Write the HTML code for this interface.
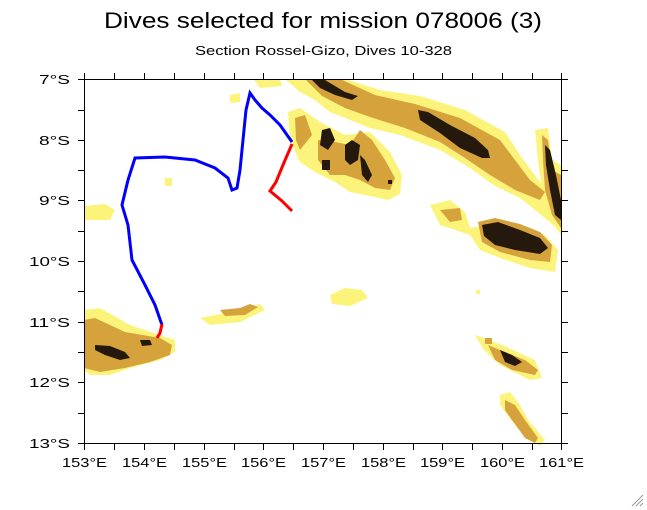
<!DOCTYPE html>
<html><head><meta charset="utf-8"><style>
html,body{margin:0;padding:0;background:#fff;width:647px;height:510px;overflow:hidden}
svg{display:block;font-family:"Liberation Sans",sans-serif}
</style></head><body>
<svg width="647" height="510" viewBox="0 0 647 510" xmlns="http://www.w3.org/2000/svg">
<text x="104" y="28" font-size="22" fill="#000" textLength="438" lengthAdjust="spacingAndGlyphs">Dives selected for mission 078006 (3)</text>
<text x="195" y="55" font-size="13" fill="#000" textLength="257" lengthAdjust="spacingAndGlyphs">Section Rossel-Gizo, Dives 10-328</text>
<g>
<g fill="#fcf47a">
<polygon points="285,79 345,79 380,90 420,96 465,110 505,132 522,158 540,182 561,192 561,232 545,218 520,198 495,186 470,168 440,150 400,135 370,128 345,118 330,112 315,100 300,92"/>
<polygon points="288,112 300,108 320,122 345,135 370,132 390,152 402,175 400,194 388,200 370,196 350,192 335,182 315,172 300,162 290,140"/>
<polygon points="430,205 450,200 465,212 470,228 490,225 520,228 545,235 558,250 555,272 530,268 500,258 480,250 470,235 440,225"/>
<polygon points="535,130 548,128 552,160 561,165 561,235 550,220 542,190 538,160"/>
<polygon points="84,310 100,308 130,325 160,335 175,340 175,352 160,360 130,368 110,375 90,375 84,370"/>
<polygon points="200,318 230,312 260,304 265,310 240,322 210,325"/>
<polygon points="254,80 280,79 282,86 260,88"/>
<polygon points="84,206 105,204 115,210 110,220 84,220"/>
<polygon points="330,295 345,288 362,290 368,298 350,306 332,304"/>
<polygon points="475,335 502,345 535,360 542,378 530,380 500,365 484,350"/>
<polygon points="500,395 510,392 520,405 528,420 545,440 540,446 530,440 515,425 500,405"/>
<polygon points="230,95 240,93 240,102 230,103"/>
<polygon points="165,178 172,178 172,186 165,186"/>
<polygon points="476,290 480,290 480,294 476,294"/>
</g>
<g fill="#d6a23c">
<polygon points="305,79 340,79 375,95 415,104 460,118 500,140 515,160 530,180 545,192 540,200 515,190 490,175 465,158 440,142 405,128 370,117 345,108 322,96"/>
<polygon points="295,118 305,115 312,135 300,150 296,140"/>
<polygon points="318,140 335,142 350,145 360,130 372,140 385,160 395,178 390,190 375,188 360,180 345,175 330,175 318,160"/>
<polygon points="440,210 460,208 462,220 450,222"/>
<polygon points="478,222 495,218 520,224 540,232 552,245 550,262 530,260 500,252 482,242"/>
<polygon points="542,135 548,140 552,170 561,175 561,228 552,215 545,190 543,160"/>
<polygon points="84,320 95,318 125,332 160,338 172,345 170,355 150,362 125,368 100,372 84,368"/>
<polygon points="220,310 240,308 250,304 258,307 245,315 225,316"/>
<polygon points="488,345 500,350 525,360 538,370 535,375 512,370 495,360"/>
<polygon points="505,400 515,405 525,420 538,438 535,443 525,438 512,420 505,410"/>
<polygon points="485,338 492,338 492,344 485,344"/>
</g>
<g fill="#24190c">
<polygon points="312,80 325,80 345,92 358,96 352,100 335,95 320,88"/>
<polygon points="418,110 428,112 450,125 475,138 488,150 490,158 482,158 460,148 440,133 420,120"/>
<polygon points="482,225 498,222 520,230 540,238 548,248 540,254 515,250 495,245 484,236"/>
<polygon points="322,130 330,128 335,140 328,150 320,145"/>
<polygon points="322,160 330,160 330,170 322,170"/>
<polygon points="345,145 352,140 360,145 358,160 350,165 345,160"/>
<polygon points="360,155 365,160 372,175 368,182 362,175"/>
<polygon points="545,145 550,150 556,175 561,200 561,220 555,215 550,190 546,165"/>
<polygon points="95,345 110,346 125,352 130,358 120,360 105,355 95,350"/>
<polygon points="140,340 150,340 152,345 142,346"/>
<polygon points="500,350 512,355 522,362 515,366 505,362"/>
<polygon points="388,180 392,180 392,184 388,184"/>
</g>
</g>
<polyline fill="none" stroke="#0000ff" stroke-width="3" points="292,142 280,125 270,115 262,108 255,100 250,93 246,110 243,140 240,170 237,188 232,190 228,178 215,168 195,160 165,157 135,158 128,180 122,205 128,225 132,260 145,285 155,305 162,325"/>
<polyline fill="none" stroke="#ff0000" stroke-width="3" points="162,324 160,333 157,338"/>
<polyline fill="none" stroke="#ff0000" stroke-width="3" points="292,144 283,165 276,182 270,191 282,201 292,211"/>
<rect x="84.5" y="79.5" width="477" height="364" fill="none" stroke="#000" stroke-width="1"/>
<g stroke="#000" stroke-width="1">
<path d="M84.5,444v6M114.5,444v6M144.5,444v6M174.5,444v6M204.5,444v6M234.5,444v6M263.5,444v6M293.5,444v6M323.5,444v6M353.5,444v6M383.5,444v6M413.5,444v6M442.5,444v6M472.5,444v6M502.5,444v6M532.5,444v6M561.5,444v6"/>
<path d="M84.5,79v-6M114.5,79v-6M144.5,79v-6M174.5,79v-6M204.5,79v-6M234.5,79v-6M263.5,79v-6M293.5,79v-6M323.5,79v-6M353.5,79v-6M383.5,79v-6M413.5,79v-6M442.5,79v-6M472.5,79v-6M502.5,79v-6M532.5,79v-6M561.5,79v-6"/>
<path d="M84,79.5h-6M84,110.5h-6M84,140.5h-6M84,170.5h-6M84,200.5h-6M84,231.5h-6M84,261.5h-6M84,291.5h-6M84,322.5h-6M84,352.5h-6M84,382.5h-6M84,413.5h-6M84,443.5h-6"/>
<path d="M562,79.5h6M562,110.5h6M562,140.5h6M562,170.5h6M562,200.5h6M562,231.5h6M562,261.5h6M562,291.5h6M562,322.5h6M562,352.5h6M562,382.5h6M562,413.5h6M562,443.5h6"/>
</g>
<g font-size="13" fill="#000">
<text x="39" y="84" textLength="31" lengthAdjust="spacingAndGlyphs">7°S</text>
<text x="39" y="145" textLength="31" lengthAdjust="spacingAndGlyphs">8°S</text>
<text x="39" y="205" textLength="31" lengthAdjust="spacingAndGlyphs">9°S</text>
<text x="29" y="266" textLength="41" lengthAdjust="spacingAndGlyphs">10°S</text>
<text x="29" y="327" textLength="41" lengthAdjust="spacingAndGlyphs">11°S</text>
<text x="29" y="387" textLength="41" lengthAdjust="spacingAndGlyphs">12°S</text>
<text x="29" y="448" textLength="41" lengthAdjust="spacingAndGlyphs">13°S</text>
</g>
<g font-size="13" fill="#000">
<text x="62" y="467" textLength="45" lengthAdjust="spacingAndGlyphs">153°E</text>
<text x="122" y="467" textLength="45" lengthAdjust="spacingAndGlyphs">154°E</text>
<text x="182" y="467" textLength="45" lengthAdjust="spacingAndGlyphs">155°E</text>
<text x="241" y="467" textLength="45" lengthAdjust="spacingAndGlyphs">156°E</text>
<text x="301" y="467" textLength="45" lengthAdjust="spacingAndGlyphs">157°E</text>
<text x="361" y="467" textLength="45" lengthAdjust="spacingAndGlyphs">158°E</text>
<text x="420" y="467" textLength="45" lengthAdjust="spacingAndGlyphs">159°E</text>
<text x="480" y="467" textLength="45" lengthAdjust="spacingAndGlyphs">160°E</text>
<text x="539" y="467" textLength="45" lengthAdjust="spacingAndGlyphs">161°E</text>
</g>
<g stroke="#999" stroke-width="1"><path d="M632,506L643,495M636,506L643,499M640,506L643,503"/></g>
</svg>
</body></html>
